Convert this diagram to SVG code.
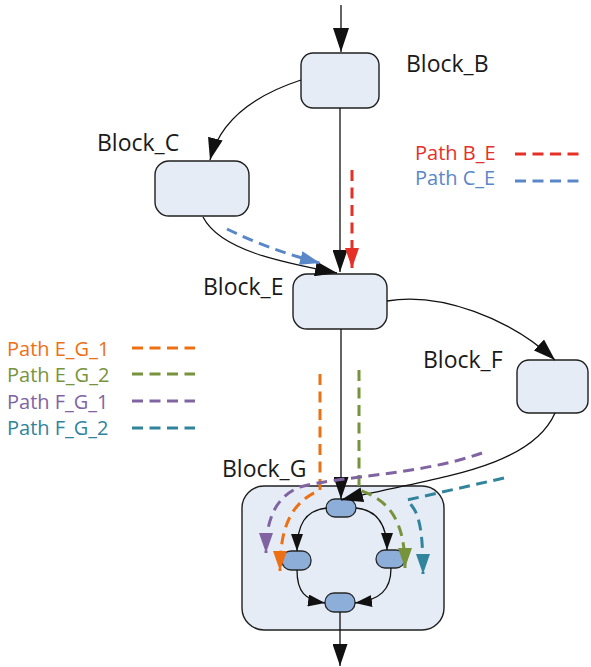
<svg xmlns="http://www.w3.org/2000/svg" width="591" height="667" viewBox="0 0 591 667">
  <style>
    .blk { fill: #E6ECF6; stroke: #1f1f1f; stroke-width: 1.4; }
    .pill { fill: #8EAEDA; stroke: #262626; stroke-width: 1.3; }
    .lbl { font-family: "Open Sans", "Liberation Sans", sans-serif; font-size: 23px; fill: #1a1a1a; }
    .leg { font-family: "Open Sans", "Liberation Sans", sans-serif; font-size: 20px; }
    .wire { fill: none; stroke: #111; stroke-width: 1.3; }
    .dash { fill: none; stroke-width: 3; stroke-dasharray: 11 6.5; }
  </style>
  <defs>
    <marker id="ah" markerUnits="userSpaceOnUse" viewBox="0 0 22 15" markerWidth="22" markerHeight="15" refX="22" refY="7.5" orient="auto">
      <path d="M0,0 L22,7.5 L0,15 z" fill="#111"/>
    </marker>
    <marker id="ahL" markerUnits="userSpaceOnUse" viewBox="0 0 24 16" markerWidth="24" markerHeight="16" refX="24" refY="8" orient="auto">
      <path d="M0,0 L24,8 L0,16 z" fill="#111"/>
    </marker>
    <marker id="ahS" markerUnits="userSpaceOnUse" viewBox="0 0 17 12" markerWidth="17" markerHeight="12" refX="17" refY="6" orient="auto">
      <path d="M0,0 L17,6 L0,12 z" fill="#111"/>
    </marker>
    <marker id="ahRed" markerUnits="userSpaceOnUse" viewBox="0 0 20 14" markerWidth="20" markerHeight="14" refX="20" refY="7" orient="auto">
      <path d="M0,0 L20,7 L0,14 z" fill="#E53027"/>
    </marker>
    <marker id="ahBlue" markerUnits="userSpaceOnUse" viewBox="0 0 20 14" markerWidth="20" markerHeight="14" refX="20" refY="7" orient="auto">
      <path d="M0,0 L20,7 L0,14 z" fill="#5A87C8"/>
    </marker>
    <marker id="ahOrange" markerUnits="userSpaceOnUse" viewBox="0 0 20 14" markerWidth="20" markerHeight="14" refX="20" refY="7" orient="auto">
      <path d="M0,0 L20,7 L0,14 z" fill="#EE7015"/>
    </marker>
    <marker id="ahGreen" markerUnits="userSpaceOnUse" viewBox="0 0 20 14" markerWidth="20" markerHeight="14" refX="20" refY="7" orient="auto">
      <path d="M0,0 L20,7 L0,14 z" fill="#77933C"/>
    </marker>
    <marker id="ahPurple" markerUnits="userSpaceOnUse" viewBox="0 0 20 14" markerWidth="20" markerHeight="14" refX="20" refY="7" orient="auto">
      <path d="M0,0 L20,7 L0,14 z" fill="#8064A2"/>
    </marker>
    <marker id="ahTeal" markerUnits="userSpaceOnUse" viewBox="0 0 20 14" markerWidth="20" markerHeight="14" refX="20" refY="7" orient="auto">
      <path d="M0,0 L20,7 L0,14 z" fill="#31849B"/>
    </marker>
  </defs>

  <rect width="591" height="667" fill="#fff"/>

  <!-- Block G container -->
  <g id="block_g">
    <rect class="blk" x="242" y="486" width="202" height="144" rx="22"/>
    <text class="lbl" x="222" y="477">Block_G</text>
  </g>

  <!-- Blocks -->
  <g id="block_b">
    <rect class="blk" x="301" y="53" width="78" height="55" rx="12"/>
    <text class="lbl" x="406" y="72">Block_B</text>
  </g>
  <g id="block_c">
    <rect class="blk" x="155" y="161" width="94" height="55" rx="14"/>
    <text class="lbl" x="97" y="151">Block_C</text>
  </g>
  <g id="block_e">
    <rect class="blk" x="293" y="274" width="94" height="55" rx="14"/>
    <text class="lbl" x="203" y="295">Block_E</text>
  </g>
  <g id="block_f">
    <rect class="blk" x="517" y="360" width="71" height="53" rx="12"/>
    <text class="lbl" x="423" y="368">Block_F</text>
  </g>

  <!-- Inner nodes of Block G -->
  <g id="g_top"><rect class="pill" x="326" y="499" width="30" height="18" rx="9"/></g>
  <g id="g_left"><rect class="pill" x="282" y="551" width="29" height="19" rx="9"/></g>
  <g id="g_right"><rect class="pill" x="376" y="550" width="29" height="18" rx="9"/></g>
  <g id="g_bottom"><rect class="pill" x="325" y="593" width="30" height="19" rx="9"/></g>

  <!-- Connectors -->
  <g id="connectors">
    <path class="wire" d="M341,5 L341,52" marker-end="url(#ahL)"/>
    <path class="wire" d="M301,80 C255,95 220,120 210,160" marker-end="url(#ah)"/>
    <path class="wire" d="M340,108 L340,272" marker-end="url(#ah)"/>
    <path class="wire" d="M203,217 C220,250 280,262 337,273" marker-end="url(#ah)"/>
    <path class="wire" d="M387,301 C440,292 510,318 555,360" marker-end="url(#ah)"/>
    <path class="wire" d="M341,329 L341,499" marker-end="url(#ah)"/>
    <path class="wire" d="M555,413 C530,470 430,478 341,500" marker-end="url(#ah)"/>

    <path class="wire" d="M327,508 C305,510 297,525 297,551" marker-end="url(#ahS)"/>
    <path class="wire" d="M356,508 C378,510 387,525 387,550" marker-end="url(#ahS)"/>
    <path class="wire" d="M297,570 C297,592 305,600 325,603" marker-end="url(#ahS)"/>
    <path class="wire" d="M391,568 C391,590 380,600 355,603" marker-end="url(#ahS)"/>
    <path class="wire" d="M340,612 L340,666" marker-end="url(#ah)"/>

    <!-- highlighted paths -->
    <path class="dash" stroke="#E53027" d="M352,170 L352,268" marker-end="url(#ahRed)"/>
    <path class="dash" stroke="#5A87C8" d="M227,229 Q270,250 320,263" marker-end="url(#ahBlue)"/>
    <path class="dash" stroke="#EE7015" d="M320,374 L320,490 C292,502 280,525 280,571" marker-end="url(#ahOrange)"/>
    <path class="dash" stroke="#77933C" d="M359,370 L359,490 C390,500 405,522 405,568" marker-end="url(#ahGreen)"/>
    <path class="dash" stroke="#8064A2" d="M482,453 C420,475 340,476 300,487 C275,497 266,520 266,553" marker-end="url(#ahPurple)"/>
    <path class="dash" stroke="#31849B" d="M504,478 L407,500 L412,506 C420,516 423,535 423,574" marker-end="url(#ahTeal)"/>
  </g>

  <!-- Legend -->
  <g id="legend">
    <text class="leg" x="415" y="160" fill="#E53027">Path B_E</text>
    <line class="dash" stroke="#E53027" x1="515" y1="154" x2="580" y2="154"/>
    <text class="leg" x="415" y="185" fill="#5A87C8">Path C_E</text>
    <line class="dash" stroke="#5A87C8" x1="515" y1="181" x2="580" y2="181"/>

    <text class="leg" x="7" y="356" fill="#EE7015">Path E_G_1</text>
    <line class="dash" stroke="#EE7015" x1="132" y1="348" x2="195" y2="348"/>
    <text class="leg" x="7" y="382" fill="#77933C">Path E_G_2</text>
    <line class="dash" stroke="#77933C" x1="132" y1="374" x2="195" y2="374"/>
    <text class="leg" x="7" y="409" fill="#8064A2">Path F_G_1</text>
    <line class="dash" stroke="#8064A2" x1="132" y1="401" x2="195" y2="401"/>
    <text class="leg" x="7" y="435" fill="#31849B">Path F_G_2</text>
    <line class="dash" stroke="#31849B" x1="132" y1="428" x2="195" y2="428"/>
  </g>
</svg>
